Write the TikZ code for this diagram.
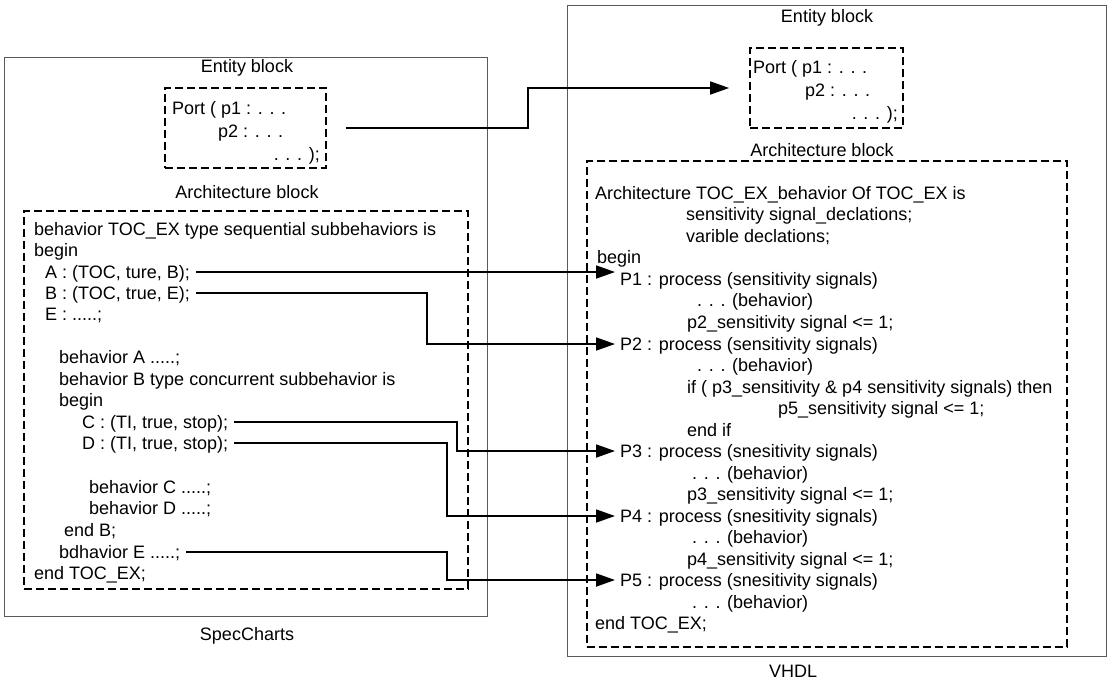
\documentclass[tikz,border=0pt]{standalone}
\usepackage{fontspec}
\setmainfont{Liberation Sans}
\usetikzlibrary{arrows.meta, positioning}

\begin{document}
\begin{tikzpicture}[
    x=1pt, y=-1pt,
    font=\fontsize{18}{21}\selectfont,
    outer/.style={draw=black!65, line width=0.8pt, inner sep=0pt},
    block/.style={draw, line width=1.8pt, dash pattern=on 8pt off 4pt, inner sep=0pt},
    code/.style={anchor=west, inner sep=0pt, text height=12.5pt, text depth=0pt},
    title/.style={inner sep=0pt},
    link/.style={line width=1.8pt, -{Triangle[length=19pt, width=13pt]}, shorten <=6pt, shorten >=5pt}
]
    \useasboundingbox (0,0) rectangle (1107,683);

    % SpecCharts side
    \node[outer, minimum width=483pt, minimum height=559pt] (spec) at (245.5,336.5) {};
    \node[title] at (247,68) {Entity block};
    \node[block, minimum width=161pt, minimum height=80pt] (lent) at (245.5,128) {};
    \node[code] (lport) at (172,108) {Port ( p1 : . . .};
    \node[code] at (218,131) {p2 : . . .};
    \node[code, anchor=east] at (320,154) {. . . );};
    \node[title] at (247,192) {Architecture block};
    \node[block, minimum width=444pt, minimum height=378pt] (larch) at (246,400) {};
    \node[code] (lhead) at (34,229) {behavior TOC\_EX type sequential subbehaviors is};
    \node[code] (lbegin) at (34,250) {begin};
    \node[code] (A) at (45,272) {A : (TOC, ture, B);};
    \node[code] (B) at (45,293) {B : (TOC, true, E);};
    \node[code] (E) at (45,314) {E : .....;};
    \node[code] (behA) at (59,357) {behavior A .....;};
    \node[code] (behB) at (59,379) {behavior B type concurrent subbehavior is};
    \node[code] (lbegin2) at (59,400) {begin};
    \node[code] (C) at (82,422) {C : (TI, true, stop);};
    \node[code] (D) at (82,443) {D : (TI, true, stop);};
    \node[code] (behC) at (89,487) {behavior C .....;};
    \node[code] (behD) at (89,508) {behavior D .....;};
    \node[code] (endB) at (64,530) {end B;};
    \node[code] (behE) at (59,552) {bdhavior E .....;};
    \node[code] (lend) at (34,573) {end TOC\_EX;};
    \node[title] at (247,636) {SpecCharts};

    % VHDL side
    \node[outer, minimum width=539pt, minimum height=651pt] (vhdl) at (836.5,330.5) {};
    \node[title] at (827,18) {Entity block};
    \node[block, minimum width=153pt, minimum height=80pt] (rent) at (826.5,88) {};
    \node[code] (rport) at (753,67) {Port ( p1 : . . .};
    \node[code] at (805,90) {p2 : . . .};
    \node[code, anchor=east] at (898,113) {. . . );};
    \node[title] at (822,150) {Architecture block};
    \node[block, minimum width=480pt, minimum height=486pt] (rarch) at (827,404) {};
    \node[code] (rhead) at (595,193) {Architecture TOC\_EX\_behavior Of TOC\_EX is};
    \node[code] (rsig) at (686,214) {sensitivity signal\_declations;};
    \node[code] (rvar) at (686,236) {varible declations;};
    \node[code] (rbegin) at (597,257) {begin};
    \node[code] (P1) at (620,279) {P1 : process (sensitivity signals)};
    \node[code] (b1) at (697,300) {. . . (behavior)};
    \node[code] (s2) at (687,322) {p2\_sensitivity signal <= 1;};
    \node[code] (P2) at (620,344) {P2 : process (sensitivity signals)};
    \node[code] (b2) at (697,365) {. . . (behavior)};
    \node[code] (rif) at (687,387) {if ( p3\_sensitivity \& p4 sensitivity signals) then};
    \node[code] (s5) at (778,408) {p5\_sensitivity signal <= 1;};
    \node[code] (rendif) at (687,430) {end if};
    \node[code] (P3) at (620,451) {P3 : process (snesitivity signals)};
    \node[code] (b3) at (692,473) {. . . (behavior)};
    \node[code] (s3) at (687,494) {p3\_sensitivity signal <= 1;};
    \node[code] (P4) at (620,516) {P4 : process (snesitivity signals)};
    \node[code] (b4) at (692,537) {. . . (behavior)};
    \node[code] (s4) at (687,559) {p4\_sensitivity signal <= 1;};
    \node[code] (P5) at (620,580) {P5 : process (snesitivity signals)};
    \node[code] (b5) at (692,602) {. . . (behavior)};
    \node[code] (rend) at (595,623) {end TOC\_EX;};
    \node[title] at (793,671) {VHDL};

    % bends
    \coordinate (bendP) at (528,0);
    \coordinate (bendB) at (427,0);
    \coordinate (bendC) at (457,0);
    \coordinate (bendD) at (447,0);

    % Mappings
    \draw[link, shorten <=19pt, shorten >=20pt] (lent.east) -- (lent.east -| bendP) |- (rent.west);
    \draw[link] (A.east) -- (A.east -| P1.west);
    \draw[link] (B.east) -- (B.east -| bendB) |- (P2.west);
    \draw[link] (C.east) -- (C.east -| bendC) |- (P3.west);
    \draw[link] (D.east) -- (D.east -| bendD) |- (P4.west);
    \draw[link] (behE.east) -- (behE.east -| bendD) |- (P5.west);
\end{tikzpicture}
\end{document}
